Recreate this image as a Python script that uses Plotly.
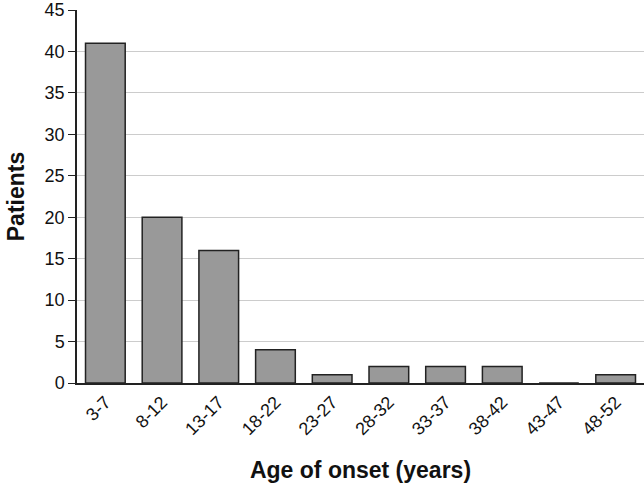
import plotly.graph_objects as go

categories = ["3-7", "8-12", "13-17", "18-22", "23-27", "28-32", "33-37", "38-42", "43-47", "48-52"]
patients = [41, 20, 16, 4, 1, 2, 2, 2, 0, 1]
y_ticks = [0, 5, 10, 15, 20, 25, 30, 35, 40, 45]

fig = go.Figure(go.Bar(
    x=categories, y=patients,
    marker=dict(color="#999999", line=dict(color="#222222", width=1.5)),
))
fig.update_layout(
    width=644, height=486,
    margin=dict(l=77, r=0, t=10, b=103),
    plot_bgcolor="white", paper_bgcolor="white",
    bargap=0.3,
    showlegend=False,
    font=dict(family="Liberation Sans, Arial, sans-serif", color="#111111"),
)
fig.update_xaxes(
    tickangle=-45, tickfont=dict(size=18),
    showline=True, linecolor="#222222", linewidth=1.5,
    title=dict(text="<b>Age of onset (years)</b>", font=dict(size=23), standoff=24),
    showgrid=False, automargin=False,
)
fig.update_yaxes(
    range=[0, 45], tickvals=y_ticks, tickfont=dict(size=18),
    showline=True, linecolor="#222222", linewidth=1.5,
    ticks="outside", ticklen=7, tickcolor="#222222",
    showgrid=True, gridcolor="#cccccc", gridwidth=1,
    title=dict(text="<b>Patients</b>", font=dict(size=23), standoff=14),
    zeroline=False, ticklabeloverflow="allow", automargin=False,
)
fig.write_html("out.html", config={"displayModeBar": False},
               post_script="document.body.style.margin='0';")
